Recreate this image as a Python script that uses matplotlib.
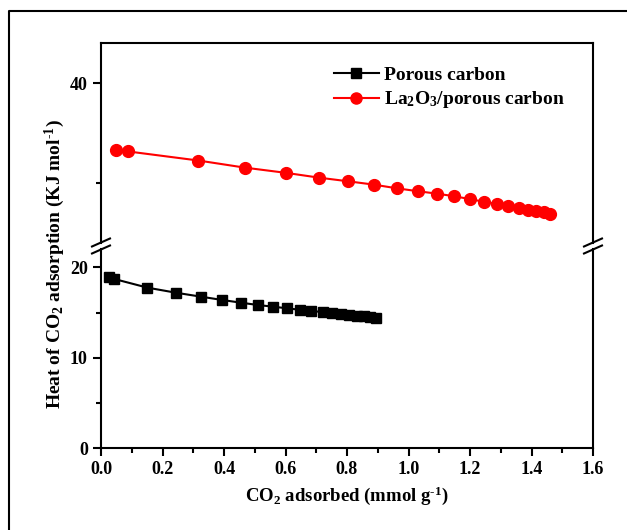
import matplotlib
matplotlib.use("Agg")
import matplotlib.pyplot as plt
from matplotlib.lines import Line2D
from matplotlib.ticker import MultipleLocator, FixedLocator

plt.rcParams['font.family'] = ['Liberation Serif', 'DejaVu Serif']
plt.rcParams['font.weight'] = 'bold'
plt.rcParams['mathtext.fontset'] = 'custom'
plt.rcParams['mathtext.rm'] = 'Liberation Serif:bold'
plt.rcParams['mathtext.bf'] = 'Liberation Serif:bold'
plt.rcParams['mathtext.it'] = 'Liberation Serif:bold'
plt.rcParams['mathtext.default'] = 'rm'

# Data
pc_x = [0.026, 0.043, 0.151, 0.244, 0.326, 0.394, 0.455, 0.511, 0.559, 0.605,
        0.646, 0.683, 0.721, 0.752, 0.781, 0.808, 0.833, 0.855, 0.876, 0.893]
pc_y = [18.96, 18.71, 17.75, 17.19, 16.75, 16.39, 16.09, 15.83, 15.65, 15.47,
        15.31, 15.17, 15.06, 14.95, 14.84, 14.73, 14.65, 14.59, 14.51, 14.43]
la_x = [0.049, 0.089, 0.317, 0.467, 0.602, 0.709, 0.802, 0.887, 0.962, 1.032,
        1.093, 1.149, 1.199, 1.245, 1.287, 1.324, 1.358, 1.389, 1.415, 1.440, 1.461]
la_y = [33.30, 33.13, 32.22, 31.51, 30.98, 30.50, 30.14, 29.80, 29.43, 29.13,
        28.89, 28.63, 28.35, 28.08, 27.85, 27.62, 27.41, 27.24, 27.11, 27.01, 26.87]
series_labels = ['Porous carbon', 'La$_2$O$_3$/porous carbon']
x_ticks = [0.0, 0.2, 0.4, 0.6, 0.8, 1.0, 1.2, 1.4, 1.6]
low_ticks = [0, 10, 20]
up_ticks = [40]

W, H = 627, 530
fig = plt.figure(figsize=(W / 100, H / 100), dpi=100)

left, right = 101 / W, 593 / W
bot_px, brk_px, top_px = 448.3, 246, 43.3
gap = 3
ax_lo = fig.add_axes([left, 1 - bot_px / H, right - left, (bot_px - brk_px - gap) / H])
ax_up = fig.add_axes([left, 1 - (brk_px - gap) / H, right - left, (brk_px - gap - top_px) / H])

lo_top = (bot_px - brk_px) / 9.05
up_bot = 30 - (brk_px - 182.7) / 9.94
ax_lo.set_ylim(0, lo_top - gap / 9.05)
ax_up.set_ylim(up_bot + gap / 9.94, 44.0)

lw = 1.5
for ax in (ax_lo, ax_up):
    ax.set_xlim(0, 1.6)
    for s in ax.spines.values():
        s.set_linewidth(lw)
    ax.tick_params(which='major', direction='out', length=6, width=lw, labelsize=13, top=False, right=False)
    ax.tick_params(which='minor', direction='out', length=3.5, width=lw, top=False, right=False)

ax_lo.spines['top'].set_visible(False)
ax_up.spines['bottom'].set_visible(False)
ax_up.tick_params(axis='x', which='both', bottom=False, labelbottom=False)

ax_lo.xaxis.set_major_locator(FixedLocator(x_ticks))
ax_lo.xaxis.set_minor_locator(MultipleLocator(0.1))
ax_lo.set_xticklabels([f'{v:.1f}' for v in x_ticks])
ax_lo.yaxis.set_major_locator(FixedLocator(low_ticks))
ax_lo.yaxis.set_minor_locator(FixedLocator([5, 15]))
ax_up.yaxis.set_major_locator(FixedLocator(up_ticks))
ax_up.yaxis.set_minor_locator(FixedLocator([30]))

ax_lo.plot(pc_x, pc_y, color='black', marker='s', markersize=7, linewidth=1.5)
ax_up.plot(la_x, la_y, color='red', marker='o', markersize=8.5, linewidth=1.5)

h1 = Line2D([], [], color='black', marker='s', markersize=6.5, linewidth=1.5)
h2 = Line2D([], [], color='red', marker='o', markersize=8, linewidth=1.5)
up_h = brk_px - gap - top_px
leg = ax_up.legend([h1, h2], series_labels, loc='upper left',
                   bbox_to_anchor=((334 - 101) / 492, 1 - (66 - top_px) / up_h),
                   frameon=False, fontsize=14, handlelength=2.3, handletextpad=0.25,
                   labelspacing=0.3, borderaxespad=0, borderpad=0)

ax_lo.set_xlabel('CO$_2$ adsorbed (mmol g$^{\\text{-1}}$)', fontsize=13.5, fontweight='bold', labelpad=4)
fig.text(55 / W, 1 - 264 / H, 'Heat of CO$_2$ adsorption (KJ mol$^{\\text{-1}}$)', rotation=90,
         ha='center', va='center', fontsize=14, fontweight='bold')

# break marks
def brk(xpx):
    for dy in (-3.5, 3.5):
        y = brk_px + dy
        fig.add_artist(Line2D([(xpx - 9) / W, (xpx + 9) / W],
                              [1 - (y + 4) / H, 1 - (y - 4) / H],
                              color='black', linewidth=1.5, transform=fig.transFigure))
brk(101)
brk(593)

# outer frame
fig.add_artist(Line2D([9 / W, 9 / W, 1.0], [0.0, 1 - 11 / H, 1 - 11 / H],
                      color='black', linewidth=1.5, transform=fig.transFigure))

fig.savefig('out.png', dpi=100)
